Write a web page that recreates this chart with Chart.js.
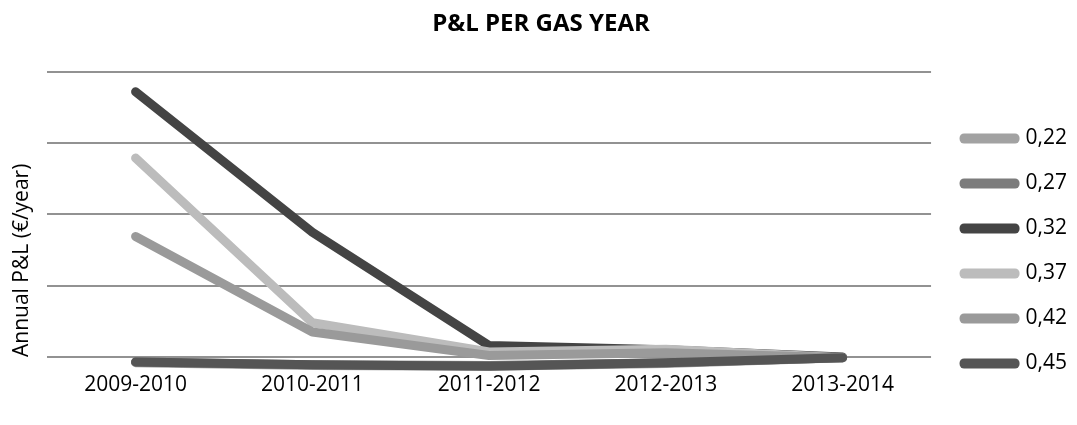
<!DOCTYPE html>
<html>
<head>
<meta charset="utf-8">
<script src="https://cdn.jsdelivr.net/npm/chart.js@4.4.1/dist/chart.umd.min.js"></script>
<style>
  html, body { margin: 0; padding: 0; background: #fff; }
  #wrap { width: 1077px; height: 425px; }
</style>
</head>
<body>
<div id="wrap"><canvas id="pl"></canvas></div>
<script>
const gasYears = ['2009-2010', '2010-2011', '2011-2012', '2012-2013', '2013-2014'];
const seriesNames = ['0,22', '0,27', '0,32', '0,37', '0,42', '0,45'];
const seriesColors = ['#a2a2a2', '#7c7c7c', '#444444', '#bcbcbc', '#9a9a9a', '#555555'];

const pl022 = [-0.08, -0.12, -0.13, -0.09, -0.01];
const pl027 = [-0.07, -0.11, -0.12, -0.08, -0.01];
const pl032 = [3.72, 1.75, 0.16, 0.10, 0.00];
const pl037 = [2.79, 0.48, 0.07, 0.11, -0.01];
const pl042 = [1.69, 0.35, 0.02, 0.06, -0.01];
const pl045 = [-0.07, -0.11, -0.13, -0.08, -0.01];

const seriesValues = [pl022, pl027, pl032, pl037, pl042, pl045];

const FONT = "'Open Sans', sans-serif";

const datasets = seriesNames.map((name, i) => ({
    label: name,
    data: seriesValues[i],
    borderColor: seriesColors[i],
    backgroundColor: seriesColors[i],
    borderWidth: 9,
    borderCapStyle: 'round',
    borderJoinStyle: 'round',
    pointRadius: 0,
    tension: 0,
    clip: false,
    // later series are painted over earlier ones
    order: seriesNames.length - i
}));

new Chart(document.getElementById('pl'), {
    type: 'line',
    data: { labels: gasYears, datasets: datasets },
    options: {
        responsive: true,
        maintainAspectRatio: false,
        animation: false,
        layout: { padding: { top: 5, left: 5, right: 0, bottom: 27 } },
        plugins: {
            title: {
                display: true,
                text: 'P&L PER GAS YEAR',
                color: '#000',
                font: { family: FONT, size: 24, weight: 'bold' },
                padding: { top: 5, bottom: 33 }
            },
            legend: {
                position: 'right',
                align: 'end',
                labels: {
                    // thin box stroked with the series width -> rounded bar
                    boxWidth: 51,
                    boxHeight: 1,
                    color: '#000',
                    font: { family: FONT, size: 21 },
                    padding: 24,
                    sort: (a, b) => a.datasetIndex - b.datasetIndex
                }
            },
            tooltip: { enabled: false }
        },
        scales: {
            x: {
                offset: true,
                grid: { display: false, drawTicks: false },
                border: { display: false },
                ticks: {
                    color: '#000',
                    padding: 15,
                    maxRotation: 0,
                    font: { family: FONT, size: 21 }
                },
                afterFit: (s) => { s.height = 41; }
            },
            y: {
                min: 0,
                max: 4,
                grid: { color: '#929292', lineWidth: 2, drawTicks: false },
                border: { display: false },
                ticks: { display: false, stepSize: 1 },
                title: {
                    display: true,
                    text: 'Annual P&L (€/year)',
                    align: 'start',
                    color: '#000',
                    font: { family: FONT, size: 21 },
                    padding: { top: 4, bottom: 13 }
                }
            },
            // empty axis keeping a gap between plot and legend
            gap: {
                type: 'linear',
                position: 'right',
                grid: { display: false },
                border: { display: false },
                ticks: { display: false },
                afterFit: (s) => { s.width = 9; }
            }
        }
    }
});
</script>
</body>
</html>
